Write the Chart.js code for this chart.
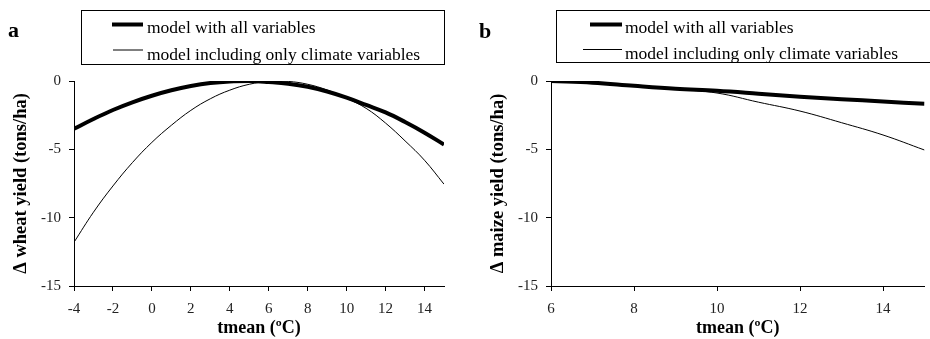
<!DOCTYPE html>
<html>
<head>
<meta charset="utf-8">
<script src="https://cdn.jsdelivr.net/npm/chart.js@4"></script>
<style>
  html, body { margin: 0; padding: 0; background: #fff; }
  #wrap { position: relative; width: 930px; height: 339px; overflow: hidden; }
  canvas { position: absolute; top: 0; }
</style>
</head>
<body>
<div id="wrap">
  <canvas id="chartA" width="465" height="339" style="left:0"></canvas>
  <canvas id="chartB" width="465" height="339" style="left:465px"></canvas>
</div>
<script>
// ---- data ----
const seriesLabels = ['model with all variables', 'model including only climate variables'];

const wheatTmean = [-4, -3, -2, -1, 0, 1, 2, 3, 4, 5, 6, 7, 8, 9, 10, 11, 12, 13, 14, 15];
const wheatAll = [-3.5, -2.78, -2.12, -1.56, -1.08, -0.68, -0.37, -0.15, -0.03, 0, -0.08, -0.2, -0.42, -0.77, -1.22, -1.75, -2.3, -3.0, -3.78, -4.65];
const wheatClimate = [-11.8, -9.6, -7.68, -5.97, -4.49, -3.24, -2.15, -1.3, -0.67, -0.24, -0.03, -0.03, -0.24, -0.66, -1.27, -2.0, -3.08, -4.38, -5.8, -7.55];

const maizeTmean = [6, 7, 8, 9, 10, 11, 12, 13, 14, 15];
const maizeAll = [0, -0.12, -0.35, -0.56, -0.72, -0.93, -1.15, -1.33, -1.5, -1.67];
const maizeClimate = [0, -0.13, -0.37, -0.6, -0.88, -1.55, -2.2, -3.05, -3.95, -5.05];

const wheatXTicks = [-4, -2, 0, 2, 4, 6, 8, 10, 12, 14];
const maizeXTicks = [6, 8, 10, 12, 14];
const yTicks = [0, -5, -10, -15];

const xTitle = 'tmean (ºC)';
const wheatYTitle = 'Δ wheat yield (tons/ha)';
const maizeYTitle = 'Δ maize yield (tons/ha)';

// ---- drawing ----
const FONT = '"Liberation Serif", "Times New Roman", serif';

const boxLegend = {
  id: 'boxLegend',
  afterDraw(chart, args, o) {
    const ctx = chart.ctx;
    ctx.save();
    ctx.fillStyle = '#000';
    ctx.strokeStyle = '#000';
    ctx.textBaseline = 'alphabetic';
    ctx.textAlign = 'left';
    ctx.font = 'bold 22px ' + FONT;
    ctx.fillText(o.letter, o.letterX, o.letterY);
    ctx.lineWidth = 1;
    ctx.strokeRect(o.box[0] + 0.5, o.box[1] + 0.5, o.box[2], o.box[3]);
    chart.data.datasets.forEach((ds, i) => {
      ctx.beginPath();
      ctx.lineWidth = ds.borderWidth;
      ctx.moveTo(o.sampleX0[i], o.sampleY[i]);
      ctx.lineTo(o.sampleX1, o.sampleY[i]);
      ctx.stroke();
      ctx.font = '17.5px ' + FONT;
      ctx.fillText(ds.label, o.textX, o.textY[i]);
    });
    ctx.restore();
  }
};

function makeChart(id, xs, allVals, climVals, xMin, xMax, xTicks, yTitle, yWidth, yTitlePad, padRight, legendOpts) {
  const toPts = vals => xs.map((x, i) => ({ x: x, y: vals[i] }));
  return new Chart(document.getElementById(id), {
    type: 'line',
    data: {
      datasets: [
        { label: seriesLabels[0], data: toPts(allVals), borderColor: '#000', borderWidth: 4, pointRadius: 0, tension: 0.4, fill: false },
        { label: seriesLabels[1], data: toPts(climVals), borderColor: '#000', borderWidth: 1, pointRadius: 0, tension: 0.4, fill: false }
      ]
    },
    options: {
      responsive: false,
      animation: false,
      devicePixelRatio: 1,
      layout: { padding: { top: 81, left: 0, right: padRight, bottom: 0 } },
      plugins: {
        legend: { display: false },
        tooltip: { enabled: false },
        boxLegend: legendOpts
      },
      scales: {
        x: {
          type: 'linear',
          min: xMin,
          max: xMax,
          afterBuildTicks: s => { s.ticks = xTicks.map(v => ({ value: v })); },
          afterFit: s => { s.height = 53; },
          grid: { drawOnChartArea: false, drawTicks: true, tickLength: 5, color: '#000' },
          border: { display: true, color: '#000', width: 1 },
          ticks: { color: '#222', padding: 9, maxRotation: 0, autoSkip: false, font: { family: FONT, size: 15 } },
          title: { display: true, text: xTitle, color: '#000', padding: { top: 0, bottom: 0 }, font: { family: FONT, size: 18, weight: 'bold' } }
        },
        y: {
          type: 'linear',
          min: -15,
          max: 0,
          afterBuildTicks: s => { s.ticks = yTicks.map(v => ({ value: v })); },
          afterFit: s => { s.width = yWidth; },
          grid: { drawOnChartArea: false, drawTicks: true, tickLength: 5, color: '#000' },
          border: { display: true, color: '#000', width: 1 },
          ticks: { color: '#222', padding: 8, autoSkip: false, font: { family: FONT, size: 15 } },
          title: { display: true, text: yTitle, color: '#000', padding: { top: yTitlePad, bottom: 0 }, font: { family: FONT, size: 18.5, weight: 'bold' } }
        }
      }
    },
    plugins: [boxLegend]
  });
}

makeChart('chartA', wheatTmean, wheatAll, wheatClimate, -4, 15, wheatXTicks, wheatYTitle, 74, 10.4, 21, {
  letter: 'a', letterX: 8, letterY: 36.5,
  box: [81, 10, 363, 54],
  sampleX0: [112, 113], sampleX1: 143, sampleY: [24.5, 50],
  textX: 147, textY: [33, 59.5]
});

makeChart('chartB', maizeTmean, maizeAll, maizeClimate, 6, 15, maizeXTicks, maizeYTitle, 86, 22.4, 5.5, {
  letter: 'b', letterX: 14, letterY: 38,
  box: [91, 10, 420, 52],
  sampleX0: [125, 118], sampleX1: 157, sampleY: [24.5, 49.5],
  textX: 160, textY: [33.3, 59]
});
</script>
</body>
</html>
